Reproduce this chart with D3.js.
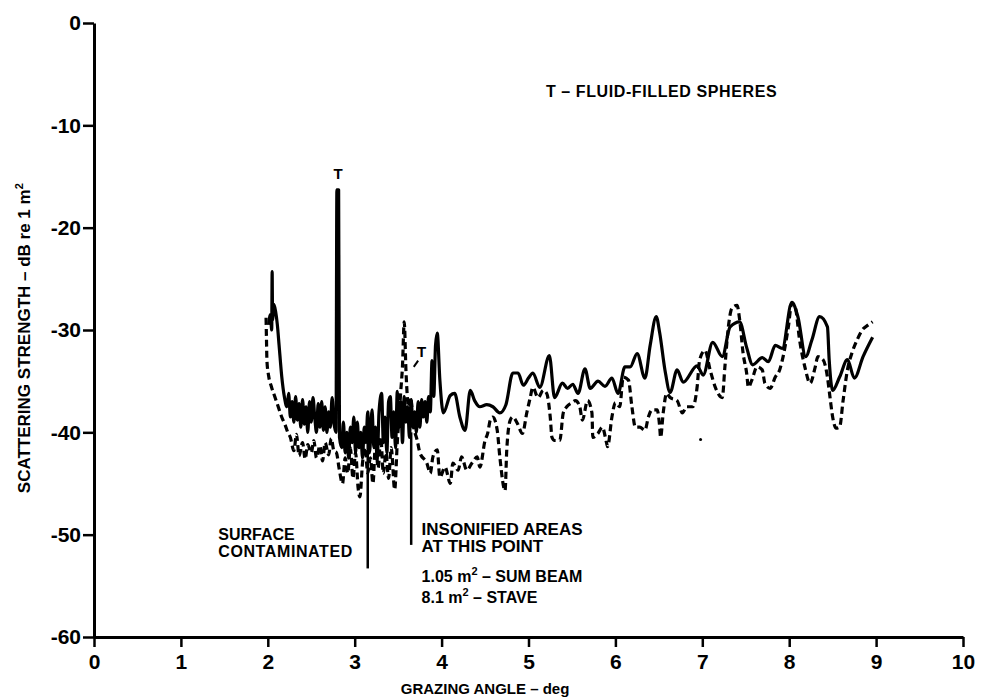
<!DOCTYPE html>
<html>
<head>
<meta charset="utf-8">
<script src="https://cdn.jsdelivr.net/npm/d3@7"></script>
<style>
  body { margin: 0; background: #fff; }
  text { font-family: "Liberation Sans", Arial, sans-serif; font-weight: bold; fill: #000; }
</style>
</head>
<body>
<svg id="chart" width="986" height="699"></svg>
<script>
// axis ticks
var xTicks = [0, 1, 2, 3, 4, 5, 6, 7, 8, 9, 10];
var yTicks = [0, -10, -20, -30, -40, -50, -60];

// solid trace: [grazing angle (deg), scattering strength (dB)]
var solidTrace = [
  [2.01,-29.5],[2.03,-28.5],[2.045,-30.0],[2.05,-24.3],[2.055,-29.0],[2.07,-27.5],[2.09,-28.2],[2.11,-29.5],
  [2.13,-31.5],[2.16,-34.5],[2.19,-36.5],[2.22,-37.5],[2.24,-36.2],[2.26,-38.5],[2.28,-37.0],[2.30,-39.0],
  [2.32,-36.5],[2.34,-38.8],[2.36,-37.2],[2.38,-39.5],[2.40,-36.8],[2.42,-39.2],[2.44,-37.5],[2.46,-40.0],
  [2.48,-37.0],[2.50,-39.0],[2.52,-36.6],[2.54,-38.5],[2.56,-40.0],[2.58,-37.2],[2.60,-39.5],[2.62,-37.0],
  [2.64,-39.8],[2.66,-37.5],[2.68,-40.0],[2.70,-38.0],[2.72,-39.5],[2.74,-36.6],[2.76,-39.0],[2.785,-40.0],
  [2.795,-16.3],[2.815,-16.3],[2.825,-40.5],
  [2.85,-41.5],[2.87,-39.0],[2.89,-42.0],[2.91,-40.0],[2.93,-42.5],[2.95,-39.5],[2.97,-41.0],[2.99,-38.5],
  [3.01,-42.0],[3.03,-39.0],[3.05,-41.5],[3.07,-40.0],[3.09,-42.5],[3.11,-39.5],[3.13,-41.0],[3.15,-38.0],
  [3.17,-42.0],[3.20,-37.8],[3.22,-41.5],[3.24,-39.5],[3.26,-42.5],[3.28,-38.0],[3.31,-36.2],[3.33,-41.0],
  [3.35,-38.5],[3.37,-42.0],[3.39,-37.0],[3.41,-36.5],[3.43,-40.5],[3.45,-38.0],[3.47,-41.5],[3.49,-36.0],
  [3.51,-39.5],[3.53,-37.0],[3.55,-41.0],[3.57,-36.5],[3.59,-39.0],[3.61,-37.5],[3.63,-40.5],[3.65,-36.8],
  [3.67,-39.5],[3.69,-38.0],[3.71,-40.0],[3.73,-37.0],[3.75,-39.5],[3.77,-36.8],[3.79,-38.5],[3.81,-37.0],
  [3.83,-39.0],[3.85,-36.5],[3.87,-38.0],[3.89,-33.0],[3.91,-36.5],[3.93,-31.5],[3.95,-30.3],[3.98,-34.9],
  [4.02,-38.1],[4.10,-36.4],[4.15,-36.2],[4.21,-38.5],[4.27,-39.8],[4.33,-35.9],[4.38,-36.9],[4.44,-37.5],
  [4.52,-37.3],[4.59,-37.5],[4.67,-38.1],[4.74,-37.3],[4.82,-34.2],[4.88,-34.2],[4.94,-35.4],[5.00,-34.7],
  [5.05,-34.2],[5.13,-35.6],[5.24,-32.5],[5.30,-36.6],[5.39,-35.2],[5.45,-35.7],[5.51,-35.3],[5.57,-36.2],
  [5.65,-33.8],[5.71,-35.7],[5.80,-35.0],[5.88,-35.5],[5.96,-34.7],[6.03,-36.2],[6.11,-33.6],[6.17,-33.6],
  [6.25,-32.3],[6.34,-34.7],[6.40,-31.5],[6.47,-28.7],[6.51,-30.3],[6.57,-33.9],[6.63,-36.1],[6.71,-33.9],
  [6.78,-35.1],[6.94,-33.5],[7.01,-34.4],[7.12,-31.2],[7.23,-32.6],[7.32,-29.7],[7.43,-29.2],[7.51,-31.7],
  [7.58,-33.4],[7.69,-32.7],[7.76,-33.1],[7.84,-31.5],[7.92,-31.8],[8.03,-27.3],[8.10,-28.7],[8.19,-32.6],
  [8.26,-31.0],[8.35,-28.7],[8.44,-29.7],[8.46,-32.9],[8.50,-35.9],[8.58,-34.6],[8.67,-32.9],[8.75,-34.7],
  [8.85,-32.6],[8.96,-30.7]
];

// dashed trace
var dashedTrace = [
  [1.98,-28.8],[1.985,-31.0],[1.99,-33.0],[2.01,-34.5],[2.04,-35.5],[2.08,-36.5],[2.12,-37.5],[2.16,-38.5],
  [2.20,-39.3],[2.23,-40.0],[2.26,-40.5],[2.30,-41.8],[2.33,-40.2],[2.36,-42.3],[2.40,-41.0],[2.43,-42.6],
  [2.46,-41.2],[2.50,-42.0],[2.53,-40.8],[2.56,-42.5],[2.60,-41.3],[2.63,-42.8],[2.66,-41.0],[2.70,-42.2],
  [2.73,-40.6],[2.76,-41.8],[2.79,-42.0],[2.82,-43.5],[2.86,-45.0],[2.89,-42.5],[2.92,-44.0],[2.95,-41.5],
  [2.98,-44.5],[3.01,-42.0],[3.04,-45.5],[3.06,-46.3],[3.09,-43.0],[3.12,-41.5],[3.15,-44.0],[3.18,-42.5],
  [3.21,-45.0],[3.24,-41.0],[3.27,-43.5],[3.30,-40.5],[3.33,-44.0],[3.36,-42.0],[3.39,-44.5],[3.42,-41.5],
  [3.46,-45.6],[3.49,-41.0],[3.51,-38.5],[3.53,-36.0],[3.55,-33.5],[3.57,-29.2],[3.59,-34.0],[3.62,-37.5],
  [3.64,-36.6],[3.68,-39.5],[3.72,-40.8],[3.75,-42.0],[3.83,-43.0],[3.87,-44.0],[3.90,-42.4],[3.95,-41.7],
  [3.98,-44.4],[4.04,-43.4],[4.10,-45.0],[4.13,-43.0],[4.19,-43.7],[4.23,-42.4],[4.29,-43.7],[4.35,-43.0],
  [4.41,-42.4],[4.44,-43.4],[4.50,-40.8],[4.53,-40.1],[4.56,-38.8],[4.59,-38.5],[4.64,-39.8],[4.67,-42.4],
  [4.73,-45.7],[4.75,-41.7],[4.79,-38.8],[4.82,-38.5],[4.87,-39.1],[4.93,-40.1],[4.98,-38.1],[5.02,-36.6],
  [5.05,-35.6],[5.11,-36.6],[5.17,-35.9],[5.21,-36.2],[5.25,-38.5],[5.27,-40.5],[5.30,-40.8],[5.36,-40.8],
  [5.40,-38.1],[5.44,-37.5],[5.50,-37.1],[5.54,-36.9],[5.59,-37.5],[5.62,-38.8],[5.68,-36.9],[5.73,-38.1],
  [5.74,-40.5],[5.80,-40.1],[5.85,-39.5],[5.90,-41.1],[5.91,-41.4],[5.96,-38.5],[6.00,-37.1],[6.05,-37.5],
  [6.09,-34.6],[6.15,-34.9],[6.19,-37.5],[6.23,-39.5],[6.28,-39.5],[6.34,-39.8],[6.38,-38.5],[6.42,-37.8],
  [6.48,-37.8],[6.51,-39.5],[6.52,-40.5],[6.55,-38.1],[6.59,-36.2],[6.63,-36.6],[6.71,-36.9],[6.77,-38.1],
  [6.82,-37.5],[6.89,-37.5],[6.94,-35.6],[6.97,-32.9],[7.03,-32.0],[7.09,-33.9],[7.15,-35.6],[7.23,-36.6],
  [7.26,-33.6],[7.30,-29.7],[7.34,-27.9],[7.40,-27.6],[7.43,-29.0],[7.47,-32.3],[7.51,-34.2],[7.53,-35.6],
  [7.57,-34.9],[7.63,-33.6],[7.69,-33.9],[7.72,-35.2],[7.78,-35.7],[7.84,-34.6],[7.89,-33.9],[7.93,-32.6],
  [7.99,-29.7],[8.03,-27.4],[8.07,-27.8],[8.12,-31.0],[8.18,-33.6],[8.24,-35.2],[8.30,-33.6],[8.33,-32.6],
  [8.39,-32.9],[8.44,-34.6],[8.47,-36.6],[8.50,-38.5],[8.54,-39.6],[8.58,-39.5],[8.62,-36.9],[8.67,-33.9],
  [8.72,-32.3],[8.78,-31.0],[8.84,-30.0],[8.91,-29.5],[8.96,-29.2]
];

// pointer lines under the annotations: [angle, top dB, bottom dB]
var pointers = [[3.15, -41.0, -53.3], [3.65, -40.0, -51.0]];

var margin = {top: 23, right: 23, bottom: 62, left: 94};

var svg = d3.select("#chart"),
  width = +svg.attr("width") - margin.left - margin.right,
  height = +svg.attr("height") - margin.top - margin.bottom;

var g = svg.append("g")
  .attr("transform", "translate(" + margin.left + "," + margin.top + ")");

var x = d3.scaleLinear().domain([0, 10]).range([0, width]);
var y = d3.scaleLinear().domain([-60, 0]).range([height, 0]);

// axes
var xAxis = g.append("g")
  .attr("transform", "translate(0," + height + ")")
  .call(d3.axisBottom(x).tickValues(xTicks).tickSize(10).tickSizeOuter(0).tickPadding(7));

var yAxis = g.append("g")
  .call(d3.axisLeft(y).tickValues(yTicks).tickSize(11).tickSizeOuter(0).tickPadding(2)
    .tickFormat(function(d) { return String(d); }));

[xAxis, yAxis].forEach(function(a) {
  a.select(".domain").attr("stroke-width", 3);
  a.selectAll(".tick line").attr("stroke-width", 2.5);
  a.selectAll(".tick text")
    .style("font-size", "21px")
    .style("font-family", "'Liberation Sans', Arial, sans-serif")
    .style("font-weight", "bold");
});

// traces
var line = d3.line()
  .curve(d3.curveMonotoneX)
  .x(function(d) { return x(d[0]); })
  .y(function(d) { return y(d[1]); });

g.append("path")
  .datum(dashedTrace)
  .attr("fill", "none")
  .attr("stroke", "black")
  .attr("stroke-width", 3.2)
  .attr("stroke-dasharray", "7,4")
  .attr("stroke-linejoin", "round")
  .attr("d", line);

g.append("path")
  .datum(solidTrace)
  .attr("fill", "none")
  .attr("stroke", "black")
  .attr("stroke-width", 3.2)
  .attr("stroke-linejoin", "round")
  .attr("d", line);

// pointer lines
g.selectAll(".pointer")
  .data(pointers)
  .enter()
  .append("line")
    .attr("class", "pointer")
    .attr("x1", function(d) { return x(d[0]); })
    .attr("x2", function(d) { return x(d[0]); })
    .attr("y1", function(d) { return y(d[1]); })
    .attr("y2", function(d) { return y(d[2]); })
    .attr("stroke", "black")
    .attr("stroke-width", 2.5);

// small slash under the second T
g.append("line")
  .attr("x1", x(3.73)).attr("y1", y(-33.0))
  .attr("x2", x(3.68)).attr("y2", y(-33.6))
  .attr("stroke", "black").attr("stroke-width", 2);

// stray dot
g.append("circle")
  .attr("cx", x(6.98)).attr("cy", y(-40.7)).attr("r", 1.5).attr("fill", "black");

// T markers
g.append("text").attr("x", x(2.81)).attr("y", y(-15.2)).attr("text-anchor", "middle")
  .style("font-size", "15px").text("T");
g.append("text").attr("x", x(3.77)).attr("y", y(-32.6)).attr("text-anchor", "middle")
  .style("font-size", "15px").text("T");

// annotations
g.append("text").attr("x", x(5.2)).attr("y", y(-7.2)).style("font-size", "16px")
  .style("letter-spacing", "0.6px")
  .text("T \u2013  FLUID-FILLED SPHERES");

g.append("text").attr("x", x(1.43)).attr("y", y(-50.5)).style("font-size", "16px").text("SURFACE");
g.append("text").attr("x", x(1.43)).attr("y", y(-52.2)).style("font-size", "16px")
  .style("letter-spacing", "0.6px").text("CONTAMINATED");

g.append("text").attr("x", x(3.77)).attr("y", y(-50.0)).style("font-size", "17px").text("INSONIFIED AREAS");
g.append("text").attr("x", x(3.77)).attr("y", y(-51.7)).style("font-size", "17px").text("AT THIS POINT");

var t1 = g.append("text").attr("x", x(3.77)).attr("y", y(-54.6)).style("font-size", "16px");
t1.append("tspan").text("1.05 m");
t1.append("tspan").attr("dy", -7).style("font-size", "11px").text("2");
t1.append("tspan").attr("dy", 7).text(" \u2013 SUM BEAM");

var t2 = g.append("text").attr("x", x(3.77)).attr("y", y(-56.7)).style("font-size", "16px");
t2.append("tspan").text("8.1 m");
t2.append("tspan").attr("dy", -7).style("font-size", "11px").text("2");
t2.append("tspan").attr("dy", 7).text(" \u2013 STAVE");

// axis titles
g.append("text")
  .attr("x", x(4.5)).attr("y", height + 57)
  .attr("text-anchor", "middle")
  .style("font-size", "15px")
  .text("GRAZING ANGLE \u2013 deg");

var yt = g.append("text")
  .attr("transform", "translate(-64," + y(-30.8) + ") rotate(-90)")
  .attr("text-anchor", "middle")
  .style("font-size", "17px");
yt.append("tspan").text("SCATTERING STRENGTH \u2013 dB re 1 m");
yt.append("tspan").attr("dy", -7).style("font-size", "11px").text("2");
</script>
</body>
</html>
